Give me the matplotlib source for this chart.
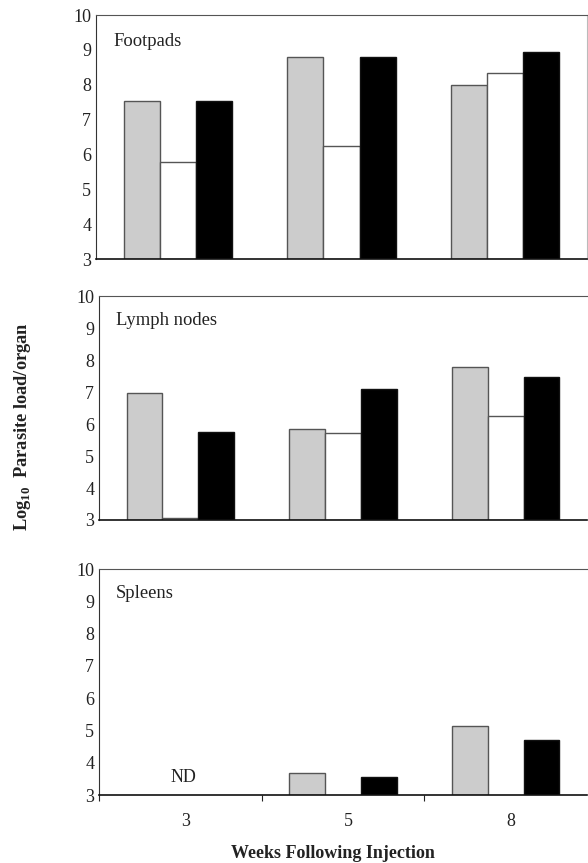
import numpy as np
import matplotlib
matplotlib.use("Agg")
import matplotlib.pyplot as plt
from matplotlib.transforms import ScaledTranslation

plt.rcParams['font.family'] = ['Liberation Serif', 'DejaVu Serif']
plt.rcParams['mathtext.fontset'] = 'custom'
plt.rcParams['mathtext.rm'] = 'Liberation Serif:bold'

weeks = ["3", "5", "8"]
panels = ["Footpads", "Lymph nodes", "Spleens"]

footpads_gray = [7.54, 8.80, 8.00]
footpads_white = [5.77, 6.25, 8.34]
footpads_black = [7.54, 8.80, 8.93]

lymph_gray = [6.96, 5.85, 7.77]
lymph_white = [3.06, 5.73, 6.26]
lymph_black = [5.76, 7.09, 7.48]

spleen_gray = [np.nan, 3.68, 5.15]
spleen_white = [np.nan, np.nan, np.nan]
spleen_black = [np.nan, 3.57, 4.70]

yticks = [3, 4, 5, 6, 7, 8, 9, 10]
base = 3

data = [
    (footpads_gray, footpads_white, footpads_black),
    (lymph_gray, lymph_white, lymph_black),
    (spleen_gray, spleen_white, spleen_black),
]

W, H = 588, 863
fig = plt.figure(figsize=(W / 100, H / 100), dpi=100)

# (left, right, top, bottom) in pixels
boxes = [(96, 587, 15, 259), (99, 587, 296, 520), (99, 587, 569, 795)]

fills = ['#cccccc', '#ffffff', '#000000']
edges = ['#555555', '#555555', '#111111']
bw = 0.22
offs = [-bw, 0, bw]
fs = 13

x = np.arange(len(weeks))
for i, ((l, r, t, b), name, series) in enumerate(zip(boxes, panels, data)):
    ax = fig.add_axes([l / W, (H - b) / H, (r - l) / W, (b - t) / H])
    for s, vals in enumerate(series):
        v = np.array(vals, dtype=float)
        ax.bar(x + offs[s], v - base, bottom=base, width=bw, color=fills[s],
               edgecolor=edges[s], linewidth=1.0, zorder=2)
    ax.set_xlim(-0.5, 2.5)
    ax.set_ylim(3, 10)
    ax.set_yticks(yticks)
    ax.set_yticklabels([str(t) for t in yticks], fontsize=fs)
    ax.tick_params(axis='y', length=0, pad=3.5, colors='#222222')
    ax.spines['left'].set_color('#333333')
    ax.spines['top'].set_color('#555555')
    ax.spines['bottom'].set_color('#111111')
    ax.spines['bottom'].set_linewidth(1.2)
    if i == 0:
        ax.spines['right'].set_color('#bbbbbb')
    else:
        ax.spines['right'].set_visible(False)
    ax.text(0.035, 0.89, name, transform=ax.transAxes, fontsize=13.4,
            ha='left', va='center', color='#222222')
    if i < 2:
        ax.set_xticks([])
    else:
        ax.set_xticks([-0.5, 0.5, 1.5])
        ax.set_xticklabels([])
        ax.tick_params(axis='x', which='major', length=4, direction='out',
                       color='#222222')
        ax.set_xticks(x, minor=True)
        ax.set_xticklabels(weeks, minor=True, fontsize=fs)
        ax.tick_params(axis='x', which='minor', length=0, pad=13,
                       colors='#222222')
        for lab in ax.get_xticklabels(minor=True):
            lab.set_transform(lab.get_transform() +
                              ScaledTranslation(5 / 100, 0, fig.dpi_scale_trans))
        ax.text(0.02, 3.53, "ND", ha='center', va='center', fontsize=fs,
                color='#222222')

fig.text(23 / W, 1 - 427 / H, r"Log$_{10}$  Parasite load/organ", rotation=90,
         ha='center', va='center', fontsize=13.2, fontweight='bold',
         color='#222222')
fig.text(333 / W, 1 - 853 / H, "Weeks Following Injection", ha='center',
         va='center', fontsize=13, fontweight='bold', color='#222222')

fig.savefig("out.png", dpi=100)
